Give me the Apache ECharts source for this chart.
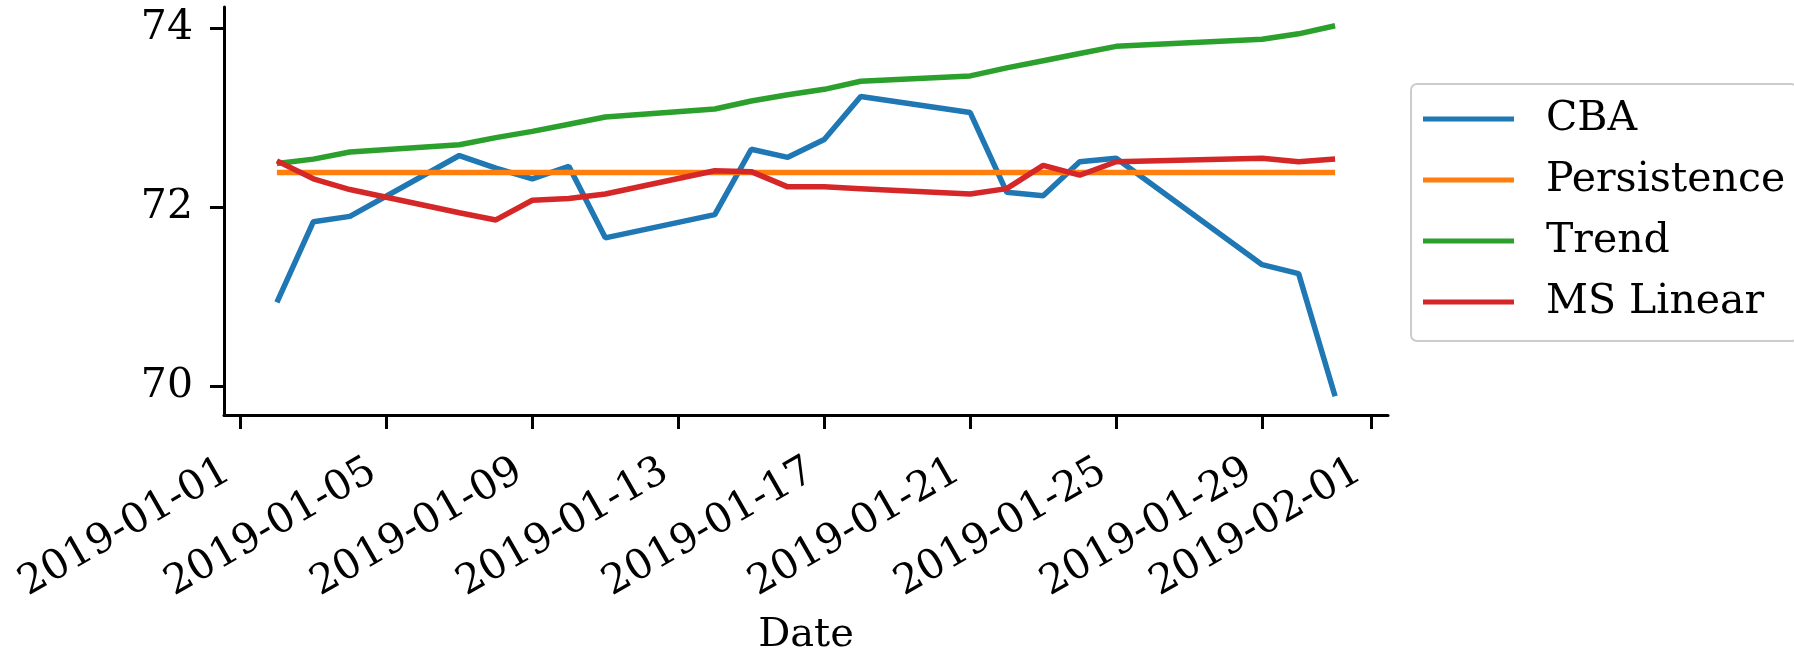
<!DOCTYPE html>
<html>
<head>
<meta charset="utf-8">
<script src="https://cdn.jsdelivr.net/npm/echarts@6/dist/echarts.min.js"></script>
<style>
html,body{margin:0;padding:0;background:#fff;}
#chart{width:1794px;height:656px;}
</style>
</head>
<body>
<div id="chart"></div>
<script>
const dates = ['2019-01-02','2019-01-03','2019-01-04','2019-01-07','2019-01-08','2019-01-09','2019-01-10','2019-01-11','2019-01-14','2019-01-15','2019-01-16','2019-01-17','2019-01-18','2019-01-21','2019-01-22','2019-01-23','2019-01-24','2019-01-25','2019-01-29','2019-01-30','2019-01-31'];
const cba = [70.94,71.84,71.90,72.58,72.44,72.32,72.46,71.66,71.92,72.65,72.56,72.76,73.24,73.06,72.17,72.13,72.51,72.55,71.36,71.26,69.89];
const persistence = [72.39,72.39,72.39,72.39,72.39,72.39,72.39,72.39,72.39,72.39,72.39,72.39,72.39,72.39,72.39,72.39,72.39,72.39,72.39,72.39,72.39];
const trend = [72.49,72.54,72.62,72.70,72.78,72.85,72.93,73.01,73.10,73.19,73.26,73.32,73.41,73.47,73.56,73.64,73.72,73.80,73.88,73.94,74.03];
const msLinear = [72.52,72.32,72.20,71.94,71.86,72.08,72.10,72.15,72.41,72.40,72.23,72.23,72.21,72.15,72.21,72.47,72.36,72.51,72.55,72.51,72.54];
const xTickLabels = ['2019-01-01','2019-01-05','2019-01-09','2019-01-13','2019-01-17','2019-01-21','2019-01-25','2019-01-29','2019-02-01'];
const yTickLabels = [70, 72, 74];
const seriesNames = ['CBA','Persistence','Trend','MS Linear'];
const colors = ['#1f77b4','#ff7f0e','#2ca02c','#d62728'];

const FONT = 'DejaVu Serif';
const DAY = 86400000;
const t = s => echarts.time.parse(s).getTime();
const xMin = t(dates[0]) - 1.45 * DAY;
const xMax = t(dates[dates.length - 1]) + 1.45 * DAY;
const xTicks = xTickLabels.map(t);
const labelOf = {};
xTickLabels.forEach((s, i) => { labelOf[xTicks[i]] = s; });

const allSeries = [cba, persistence, trend, msLinear];
const chart = echarts.init(document.getElementById('chart'), null, {renderer: 'canvas'});
chart.setOption({
  backgroundColor: '#ffffff',
  animation: false,
  grid: {left: 224, right: 406, top: 7, bottom: 241, containLabel: false, outerBoundsMode: 'none'},
  xAxis: {
    type: 'value',
    min: xMin,
    max: xMax,
    name: 'Date',
    nameLocation: 'middle',
    nameGap: 221,
    nameTextStyle: {fontFamily: FONT, fontSize: 40, color: '#000', verticalAlign: 'middle'},
    axisLine: {show: true, lineStyle: {color: '#000', width: 3}},
    axisTick: {show: true, length: 14, lineStyle: {color: '#000', width: 3}, customValues: xTicks},
    axisLabel: {
      customValues: xTicks,
      rotate: 30,
      margin: 46,
      padding: [0, 15, 0, 0],
      fontFamily: FONT, fontSize: 41, color: '#000',
      formatter: v => labelOf[v] !== undefined ? labelOf[v] : echarts.time.format(v, '{yyyy}-{MM}-{dd}', false)
    },
    splitLine: {show: false}
  },
  yAxis: {
    type: 'value',
    min: 69.68,
    max: 74.24,
    axisLine: {show: true, lineStyle: {color: '#000', width: 3}},
    axisTick: {show: true, length: 14, lineStyle: {color: '#000', width: 3}, customValues: yTickLabels},
    axisLabel: {customValues: yTickLabels, margin: 31, fontFamily: FONT, fontSize: 41, color: '#000'},
    splitLine: {show: false}
  },
  legend: {
    orient: 'vertical',
    left: 1411,
    top: 84,
    data: seriesNames,
    icon: 'rect',
    itemWidth: 91,
    itemHeight: 5,
    itemGap: 13,
    padding: [11, 12, 15, 12],
    borderColor: '#cccccc',
    borderWidth: 2,
    borderRadius: 6,
    backgroundColor: '#ffffff',
    textStyle: {fontFamily: FONT, fontSize: 41, color: '#000', lineHeight: 48, padding: [0, 0, 0, 27]}
  },
  series: seriesNames.map((name, i) => ({
    name: name,
    type: 'line',
    data: dates.map((d, j) => [t(d), allSeries[i][j]]),
    showSymbol: false,
    symbol: 'none',
    lineStyle: {color: colors[i], width: 5.5},
    itemStyle: {color: colors[i]},
    z: 2 + i
  }))
});
</script>
</body>
</html>
